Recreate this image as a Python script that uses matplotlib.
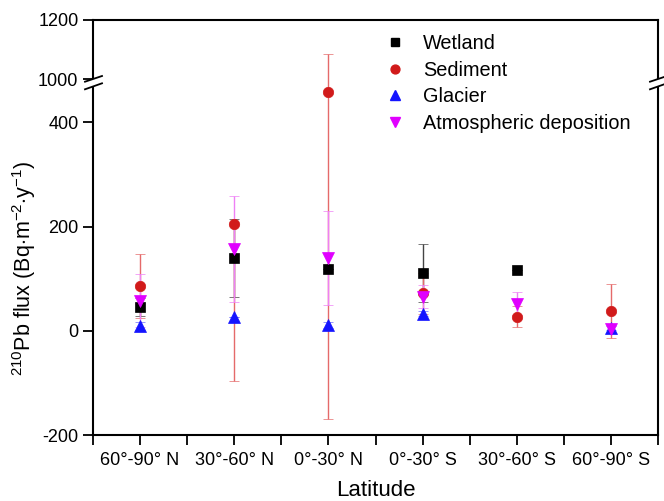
import numpy as np
import matplotlib
matplotlib.use("Agg")
import matplotlib.pyplot as plt
from matplotlib.lines import Line2D
from matplotlib.patches import Polygon

plt.rcParams['font.family'] = ['Liberation Sans', 'DejaVu Sans']
plt.rcParams['mathtext.fontset'] = 'custom'
plt.rcParams['mathtext.rm'] = 'Liberation Sans'
plt.rcParams['mathtext.it'] = 'Liberation Sans:italic'
plt.rcParams['axes.unicode_minus'] = False

# ------------------------------------------------------------
# data
# ------------------------------------------------------------
categories = ["60°-90° N", "30°-60° N", "0°-30° N", "0°-30° S", "30°-60° S", "60°-90° S"]

wetland = [45, 140, 118, 111, 117, np.nan]
wetland_err = [17, 75, 0, 56, 0, 0]

sediment = [86, 205, 458, 72, 27, 38]
sediment_err_lo = [61, 302, 628, 39, 20, 52]
sediment_err_hi = [61, 0, 628, 39, 20, 52]

glacier = [9, 27, 11, 33, np.nan, 5]
glacier_err = [8, 0, 6, 4, 0, 4]

atmos = [58, 157, 140, 65, 52, 3]
atmos_err = [50, 101, 90, 22, 22, 8]

labels = ["Wetland", "Sediment", "Glacier", "Atmospheric deposition"]

# ------------------------------------------------------------
# layout: broken y axis = two stacked axes, no gap
# ------------------------------------------------------------
W, H = 664, 501
fig = plt.figure(figsize=(W / 100, H / 100), dpi=100)
left, right = 93 / W, 658 / W
y_break, y_top, y_bot = 79, 20, 435
ax_lo = fig.add_axes([left, (H - y_bot) / H, right - left, (y_bot - y_break) / H])
ax_hi = fig.add_axes([left, (H - y_break) / H, right - left, (y_break - y_top) / H], sharex=ax_lo)

x = np.arange(1, len(categories) + 1)

series = [
    (wetland, [wetland_err, wetland_err], "s", "#000000", "#444444", 7.0),
    (sediment, [sediment_err_lo, sediment_err_hi], "o", "#d11a1a", "#e56a6a", 7.5),
    (glacier, [glacier_err, glacier_err], "^", "#1414ff", "#6a6aff", 8.0),
    (atmos, [atmos_err, atmos_err], "v", "#e000ff", "#ee80f5", 8.0),
]

for ax in (ax_lo, ax_hi):
    for vals, err, mk, col, ecol, ms in series:
        ax.errorbar(x, vals, yerr=np.array(err), fmt=mk, color=col, ms=ms,
                    mec=col, mew=0.5, ecolor=ecol, elinewidth=1.0,
                    capsize=3.3, capthick=1.0)

ax_lo.set_ylim(-200, 483)
ax_hi.set_ylim(1000, 1200)
ax_lo.set_yticks([-200, 0, 200, 400])
ax_hi.set_yticks([1000, 1200])
ax_lo.set_xlim(0.5, 6.5)
ax_lo.set_xticks(x)
ax_lo.set_xticklabels(categories)
ax_lo.set_xticks(np.arange(0.5, 7.0, 1.0), minor=True)

for ax in (ax_lo, ax_hi):
    for s in ax.spines.values():
        s.set_linewidth(1.5)
    ax.tick_params(axis="both", which="both", direction="out", length=7,
                   width=1.3, labelsize=13)
    ax.tick_params(axis="y", right=False)

ax_lo.spines["top"].set_visible(False)
ax_hi.spines["bottom"].set_visible(False)
ax_hi.tick_params(axis="x", which="both", bottom=False, labelbottom=False)
ax_lo.tick_params(axis="x", pad=5)

ax_lo.set_xlabel("Latitude", fontsize=16, labelpad=8)
fig.text(24 / W, (H - 268) / H, r"$^{210}$Pb flux (Bq$\cdot$m$^{-2}$$\cdot$y$^{-1}$)",
         rotation=90, ha="center", va="center", fontsize=15.5)

# break marks "//" on both side spines
bx0, by0 = ax_hi.transAxes.transform((0, 0))
bx1, _ = ax_hi.transAxes.transform((1, 0))
for bx in (bx0, bx1):
    l1 = [(bx - 8, by0 - 2.7), (bx + 9, by0 + 3.0)]
    l2 = [(bx - 8, by0 - 10.3), (bx + 9, by0 - 4.3)]
    to_fig = lambda pts: [(px / W, py / H) for px, py in pts]
    poly = Polygon(to_fig(l1 + l2[::-1]), closed=True, facecolor="white",
                   edgecolor="none", transform=fig.transFigure, zorder=10)
    fig.add_artist(poly)
    for ln in (l1, l2):
        p = to_fig(ln)
        fig.add_artist(Line2D([p[0][0], p[1][0]], [p[0][1], p[1][1]],
                              color="black", lw=1.3, transform=fig.transFigure,
                              zorder=11))

# legend
handles = [Line2D([], [], ls="none", marker=mk, color=col, ms=ms * 0.85)
           for _, _, mk, col, _, ms in series]
fig.legend(handles, labels, loc="upper left",
           bbox_to_anchor=(385 / W, (H - 34) / H), frameon=False, fontsize=14.3,
           handlelength=1.0, handletextpad=0.93, labelspacing=0.38,
           borderpad=0, borderaxespad=0, numpoints=1)

fig.savefig("out.png", dpi=100)
